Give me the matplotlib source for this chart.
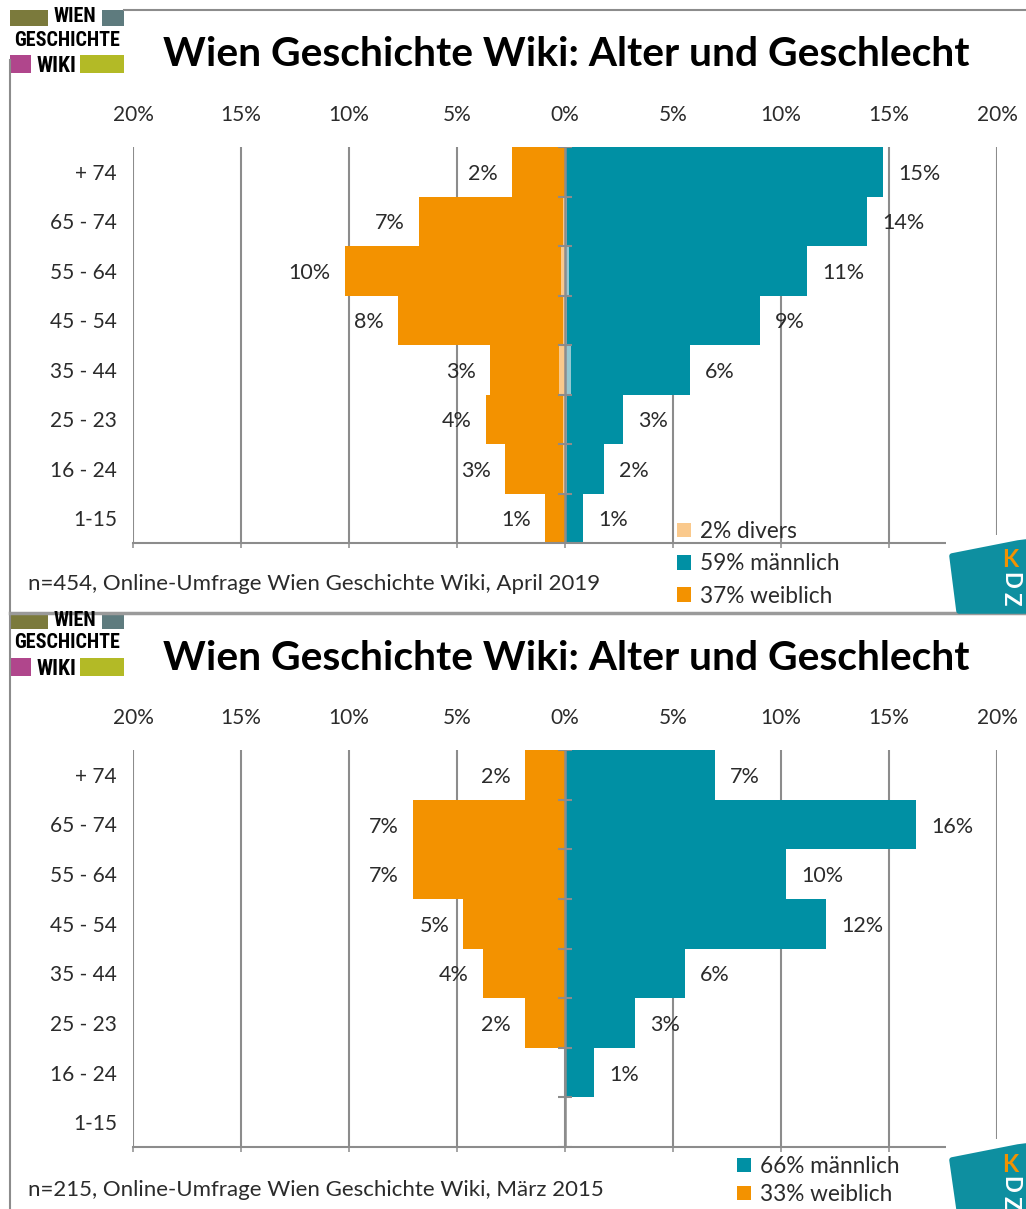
import matplotlib
matplotlib.use("Agg")
import matplotlib.pyplot as plt
from matplotlib.patches import Rectangle, Polygon, Patch
from matplotlib.lines import Line2D
from matplotlib.ticker import FuncFormatter
from matplotlib import font_manager
import numpy as np

# ---------------- data ----------------
categories = ["+ 74", "65 - 74", "55 - 64", "45 - 54", "35 - 44", "25 - 23", "16 - 24", "1-15"]

female_2019 = [2.45, 6.76, 10.2, 7.73, 3.47, 3.66, 2.78, 0.93]
male_2019 = [14.7, 13.98, 11.2, 9.03, 5.79, 2.69, 1.81, 0.83]
divers_2019 = [0.0, 0.2, 0.4, 0.2, 0.6, 0.2, 0.2, 0.0]

female_2015 = [1.85, 7.04, 7.04, 4.72, 3.8, 1.85, 0.0, 0.0]
male_2015 = [6.94, 16.25, 10.23, 12.08, 5.56, 3.24, 1.34, 0.0]

xticks = [-20, -15, -10, -5, 0, 5, 10, 15, 20]

title = "Wien Geschichte Wiki: Alter und Geschlecht"
note_2019 = "n=454, Online-Umfrage Wien Geschichte Wiki, April 2019"
note_2015 = "n=215, Online-Umfrage Wien Geschichte Wiki, März 2015"
legend_2019 = ["2% divers", "59% männlich", "37% weiblich"]
legend_2015 = ["66% männlich", "33% weiblich"]

# ---------------- style ----------------
ORANGE = "#F39200"
TEAL = "#0090A4"
LIGHT_OR = "#FAC98C"
LIGHT_TE = "#95C8D2"
GRID = "#8C8C8C"
TXT = "#2B2B2B"
KDZ_TEAL = "#0E8FA0"

names = {f.name for f in font_manager.fontManager.ttflist}
MAIN_FONT = "Lato" if "Lato" in names else "DejaVu Sans"
LOGO_FONT = "DejaVu Sans"
for cand in ["Roboto Condensed", "Liberation Sans Narrow", "Open Sans Condensed", "Roboto"]:
    if cand in names:
        LOGO_FONT = cand
        break
plt.rcParams["font.family"] = [MAIN_FONT, "DejaVu Sans"]

W, H = 1026, 1209
fig = plt.figure(figsize=(W / 100, H / 100), dpi=100)
fig.patch.set_facecolor("white")


def fx(x):
    return x / W


def fy(y):
    return 1 - y / H


def draw_panel(ax, female, male, divers=None):
    n = len(categories)
    y = np.arange(n)
    ax.barh(y, [-v for v in female], height=1.0, color=ORANGE, zorder=2, linewidth=0)
    ax.barh(y, male, height=1.0, color=TEAL, zorder=2, linewidth=0)
    if divers is not None:
        ax.barh(y, [-d / 2 for d in divers], height=1.0, color=LIGHT_OR, zorder=3, linewidth=0)
        ax.barh(y, [d / 2 for d in divers], height=1.0, color=LIGHT_TE, zorder=3, linewidth=0)
    ax.set_xlim(-20, 20)
    ax.set_ylim(n - 0.5, -0.5)
    ax.set_xticks(xticks)
    ax.xaxis.set_major_formatter(FuncFormatter(lambda v, p: f"{abs(v):.0f}%"))
    ax.grid(axis="x", color=GRID, linewidth=1.5, zorder=1)
    ax.set_axisbelow(True)
    for s in ["top", "left", "right"]:
        ax.spines[s].set_visible(False)
    ax.spines["bottom"].set_color(GRID)
    ax.spines["bottom"].set_linewidth(1.5)
    ax.tick_params(axis="x", top=False, bottom=True, labeltop=True, labelbottom=False,
                   length=3.6, width=1.1, color=GRID, pad=12, labelsize=15, labelcolor=TXT)
    ax.set_yticks(y)
    ax.set_yticklabels(categories)
    ax.tick_params(axis="y", length=0, pad=11.5, labelsize=15, labelcolor=TXT)
    # central axis with tick marks
    ax.axvline(0, color=GRID, linewidth=1.8, zorder=4)
    ax.hlines(np.arange(-0.5, n, 1.0), -0.33, 0.33, color=GRID, linewidth=1.5, zorder=4)
    # value labels
    for i, v in enumerate(female):
        if v > 0:
            ax.annotate(f"{v:.0f}%", (-v, i), xytext=(-10, -1.5), textcoords="offset points",
                        ha="right", va="center", fontsize=15.5, color=TXT)
    for i, v in enumerate(male):
        if v > 0:
            ax.annotate(f"{v:.0f}%", (v, i), xytext=(11, -1.5), textcoords="offset points",
                        ha="left", va="center", fontsize=15.5, color=TXT)


ax1 = fig.add_axes([fx(133), fy(543), 864 / W, 396 / H])
draw_panel(ax1, female_2019, male_2019, divers_2019)
ax2 = fig.add_axes([fx(133), fy(1147), 864 / W, 397 / H])
draw_panel(ax2, female_2015, male_2015)


def prect(x, y, w, h, color, z=5):
    fig.add_artist(Rectangle((fx(x), fy(y + h)), w / W, h / H, transform=fig.transFigure,
                             facecolor=color, edgecolor="none", zorder=z))


def pline(xs, ys, color=GRID, lw=1.5):
    fig.add_artist(Line2D([fx(v) for v in xs], [fy(v) for v in ys], transform=fig.transFigure,
                          color=color, linewidth=lw, zorder=6))


def draw_logo(y0):
    prect(10, y0, 38, 16, "#7B7A3C")
    prect(102, y0, 22, 16, "#5E7B7E")
    prect(10, y0 + 45, 21, 18, "#B0468C")
    prect(80, y0 + 45, 44, 18, "#B3BA26")
    kw = dict(ha="center", va="center", fontweight="heavy", color="black",
              family=[LOGO_FONT, "DejaVu Sans"], zorder=7)
    fig.text(fx(75), fy(y0 + 7), "WIEN", fontsize=14.5, **kw)
    fig.text(fx(67), fy(y0 + 30), "GESCHICHTE", fontsize=14.5, **kw)
    fig.text(fx(56), fy(y0 + 56), "WIKI", fontsize=15.5, **kw)


def draw_kdz(ytop, ybot):
    prect(946, ytop - 8, 80, ybot - ytop + 8, "white", z=5)
    pts = [(952, ytop + 13), (1018, ytop), (1026, ytop - 1), (1026, ybot), (959, ybot)]
    fig.add_artist(Polygon([(fx(a), fy(b)) for a, b in pts], closed=True, transform=fig.transFigure,
                           facecolor=KDZ_TEAL, edgecolor=KDZ_TEAL, linewidth=4, joinstyle="round",
                           zorder=6))
    fig.text(fx(1010), fy(ytop + 17), "K", color="#F39200", fontsize=17, fontweight="bold",
             ha="center", va="center", zorder=7)
    fig.text(fx(1010), fy(ytop + 37), "D", color="white", fontsize=16, fontweight="bold",
             ha="center", va="center", rotation=-90, rotation_mode="anchor", zorder=7)
    fig.text(fx(1010), fy(ytop + 56), "Z", color="white", fontsize=16, fontweight="bold",
             ha="center", va="center", rotation=-90, rotation_mode="anchor", zorder=7)


# frame lines
pline([10, 10], [60, 1209])
pline([124, 1026], [10, 10])
pline([10, 1026], [613, 613], color="#9A9A9A", lw=2.5)

# logos
draw_logo(10)
draw_logo(613)
draw_kdz(543, 611)
draw_kdz(1147, 1209)

# titles
fig.text(fx(566), fy(55), title, ha="center", va="center", fontsize=29.3, fontweight="bold",
         color="black")
fig.text(fx(566), fy(659), title, ha="center", va="center", fontsize=29.3, fontweight="bold",
         color="black")

# notes
fig.text(fx(28), fy(584), note_2019, ha="left", va="center", fontsize=16, color=TXT)
fig.text(fx(28), fy(1190), note_2015, ha="left", va="center", fontsize=16, color=TXT)

# legends
h1 = [Patch(facecolor=LIGHT_OR), Patch(facecolor=TEAL), Patch(facecolor=ORANGE)]
lg1 = fig.legend(h1, legend_2019, loc="upper left", bbox_to_anchor=(fx(677), fy(521)),
                 frameon=False, fontsize=16.3, handlelength=0.6, handleheight=0.6,
                 handletextpad=0.4, labelspacing=0.5, borderpad=0, borderaxespad=0)
h2 = [Patch(facecolor=TEAL), Patch(facecolor=ORANGE)]
lg2 = fig.legend(h2, legend_2015, loc="upper left", bbox_to_anchor=(fx(737), fy(1156)),
                 frameon=False, fontsize=16.3, handlelength=0.6, handleheight=0.6,
                 handletextpad=0.4, labelspacing=0.3, borderpad=0, borderaxespad=0)
for lg in (lg1, lg2):
    lg.set_zorder(8)
    for t in lg.get_texts():
        t.set_color(TXT)

fig.savefig("out.png", dpi=100, facecolor="white")
